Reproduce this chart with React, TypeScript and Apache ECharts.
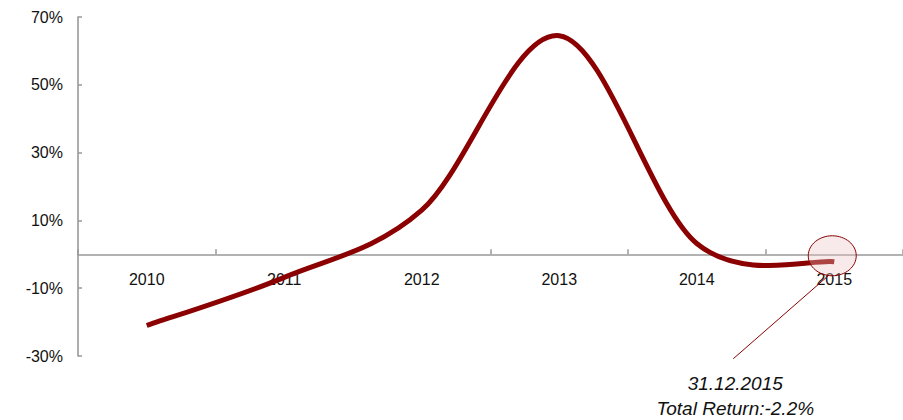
import React, { useEffect, useRef } from "react";
import * as echarts from "echarts";

// Yearly return series
const years: string[] = ["2010", "2011", "2012", "2013", "2014", "2015"];
const returns: number[] = [-21, -6.8, 13, 64.5, 3.2, -2.2];
const yTicks: number[] = [-30, -10, 10, 30, 50, 70];
const noteDate = "31.12.2015";
const noteText = "Total Return:-2.2%";

const LINE_RED = "#8b0000";
const AXIS_GREY = "#999999";
const FONT = "'Liberation Sans', Arial, sans-serif";

// Cardinal (Catmull-Rom) spline through pixel points, as an SVG path string
function splinePath(pts: number[][]): string {
  const n = pts.length;
  let d = `M${pts[0][0]},${pts[0][1]}`;
  for (let i = 0; i < n - 1; i++) {
    const p0 = pts[Math.max(i - 1, 0)];
    const p1 = pts[i];
    const p2 = pts[i + 1];
    const p3 = pts[Math.min(i + 2, n - 1)];
    const c1x = p1[0] + (p2[0] - p0[0]) / 6;
    const c1y = p1[1] + (p2[1] - p0[1]) / 6;
    const c2x = p2[0] - (p3[0] - p1[0]) / 6;
    const c2y = p2[1] - (p3[1] - p1[1]) / 6;
    d += ` C${c1x},${c1y} ${c2x},${c2y} ${p2[0]},${p2[1]}`;
  }
  return d;
}

export default function App() {
  const ref = useRef<HTMLDivElement>(null);

  useEffect(() => {
    if (!ref.current) return;
    const chart = echarts.init(ref.current, null, { renderer: "svg" });
    const gridBottom = 64;
    chart.setOption({
      animation: false,
      grid: { left: 78, right: 0, top: 17, bottom: gridBottom },
      xAxis: {
        type: "category",
        data: years,
        boundaryGap: true,
        axisLine: { onZero: false, lineStyle: { color: AXIS_GREY, width: 1.6 } },
        axisTick: { show: true, inside: true, length: 5, lineStyle: { color: AXIS_GREY, width: 1.5 } },
        axisLabel: { color: "#111", fontSize: 16, fontFamily: FONT, margin: 17 },
        splitLine: { show: false },
      },
      yAxis: {
        type: "value",
        min: -30,
        max: 70,
        interval: 10,
        axisLine: { show: true, onZero: false, lineStyle: { color: AXIS_GREY, width: 1.6 } },
        axisTick: {
          show: true,
          inside: true,
          length: 4,
          customValues: yTicks,
          lineStyle: { color: AXIS_GREY, width: 1.5 },
        },
        axisLabel: {
          color: "#111",
          fontSize: 16,
          fontFamily: FONT,
          margin: 15,
          customValues: yTicks,
          formatter: (v: number) => `${v}%`,
        },
        splitLine: { show: false },
      },
      series: [
        {
          type: "custom",
          data: returns.map((v, i) => [i, v]),
          encode: { x: 0, y: 1 },
          renderItem: (params: any, api: any) => {
            if (params.dataIndex !== returns.length - 1) return null;
            const pts = returns.map((v, i) => api.coord([i, v]));
            return {
              type: "path",
              shape: { pathData: splinePath(pts) },
              style: { stroke: LINE_RED, lineWidth: 5, fill: "none" },
            };
          },
          z: 2,
        },
      ],
    });

    // Place the category axis on the zero line
    const zero = chart.convertToPixel({ gridIndex: 0 }, [0, 0]) as number[];
    const bottomY = chart.getHeight() - gridBottom;
    chart.setOption({ xAxis: { offset: -(bottomY - zero[1]) } });

    // Callout on the last data point
    const lastIdx = returns.length - 1;
    const p = chart.convertToPixel({ gridIndex: 0 }, [lastIdx, returns[lastIdx]]) as number[];
    const cx = p[0] - 2;
    const cy = p[1] - 6;
    const lineEnd = [p[0] - 101, p[1] + 97];
    chart.setOption({
      graphic: [
        {
          type: "ellipse",
          shape: { cx, cy, rx: 24, ry: 20 },
          style: { fill: "rgba(235, 195, 195, 0.35)", stroke: LINE_RED, lineWidth: 1 },
          z: 10,
        },
        {
          type: "line",
          shape: { x1: p[0] - 6, y1: p[1] + 14, x2: lineEnd[0], y2: lineEnd[1] },
          style: { stroke: LINE_RED, lineWidth: 1 },
          z: 10,
        },
        {
          type: "text",
          x: lineEnd[0] + 2,
          y: lineEnd[1] + 25,
          style: {
            text: noteDate,
            fill: "#111",
            font: `italic 19px ${FONT}`,
            align: "center",
            verticalAlign: "middle",
          },
          z: 10,
        },
        {
          type: "text",
          x: lineEnd[0] + 2,
          y: lineEnd[1] + 50,
          style: {
            text: noteText,
            fill: "#111",
            font: `italic 19px ${FONT}`,
            align: "center",
            verticalAlign: "middle",
          },
          z: 10,
        },
      ],
    });

    return () => chart.dispose();
  }, []);

  return (
    <div
      ref={ref}
      style={{ position: "fixed", left: 0, top: 0, width: 903, height: 420, background: "#fff" }}
    />
  );
}
